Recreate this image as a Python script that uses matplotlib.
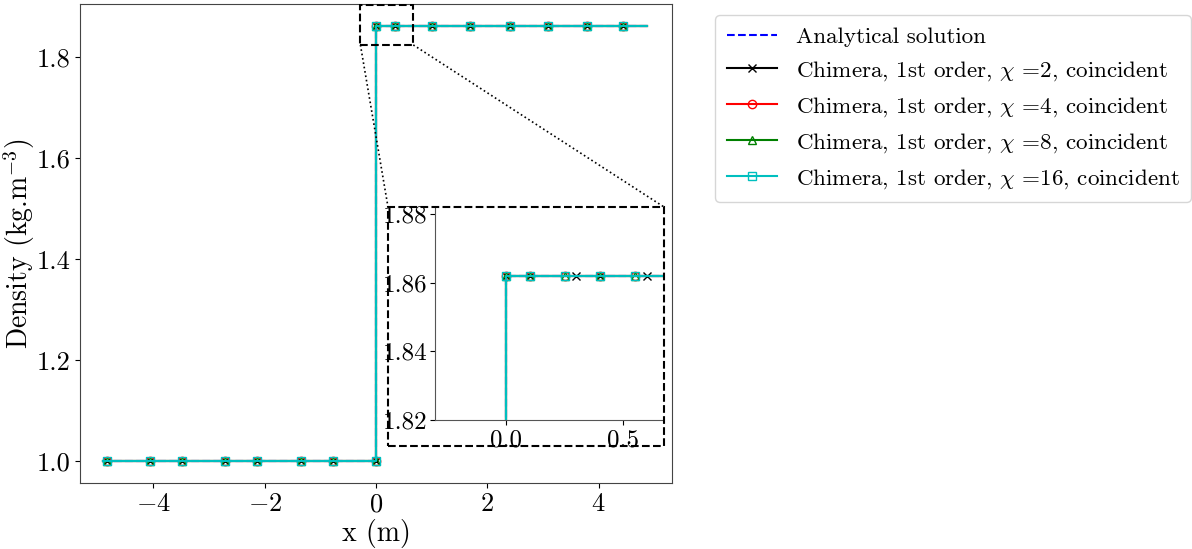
import matplotlib
matplotlib.use("Agg")
import matplotlib.pyplot as plt
from matplotlib.patches import Rectangle
from matplotlib.lines import Line2D

plt.rcParams['font.family'] = 'serif'
plt.rcParams['font.serif'] = ['cmr10']
plt.rcParams['mathtext.fontset'] = 'cm'
plt.rcParams['axes.formatter.use_mathtext'] = True
plt.rcParams['axes.unicode_minus'] = True

# ---- data ----
rho_left = 1.0
rho_right = 1.862
x_start = -4.9
x_end = 4.87
x_jump = 0.0

# marker positions in main view
markers_left = [-4.84, -4.06, -3.49, -2.72, -2.13, -1.35, -0.77, 0.0]
markers_right = [0.0, 0.34, 1.0, 1.69, 2.41, 3.09, 3.79, 4.44]

# marker positions in zoomed view
inset_markers = {
    2: [0.0, 0.1, 0.3, 0.4, 0.6],
    4: [0.0, 0.1, 0.25, 0.4, 0.55],
    8: [0.0, 0.1, 0.25, 0.4, 0.55],
    16: [0.0, 0.1, 0.25, 0.4, 0.55],
}

chis = [2, 4, 8, 16]
colors = {2: 'k', 4: 'r', 8: 'g', 16: 'c'}
mks = {2: 'x', 4: 'o', 8: '^', 16: 's'}

fs = 19
fs_lab = 20
fs_in = 18
fs_leg = 16.6

fig = plt.figure(figsize=(11.92, 5.49), dpi=100)
ax = fig.add_axes([80/1192, 1-483/549, 592/1192, 479/549])


def build(mleft, mright):
    xs = [x_start] + list(mleft) + [x_jump, x_jump] + list(mright) + [x_end]
    ys = [rho_left] * (len(mleft) + 2) + [rho_right] * (len(mright) + 2)
    idx = list(range(1, 1 + len(mleft))) + list(range(3 + len(mleft), 3 + len(mleft) + len(mright)))
    return xs, ys, idx


# analytical
ax.plot([x_start, x_jump, x_jump, x_end], [rho_left, rho_left, rho_right, rho_right],
        '--', color='b', lw=1.5, label='Analytical solution')
for chi in chis:
    xs, ys, idx = build(markers_left, markers_right)
    ax.plot(xs, ys, '-', color=colors[chi], lw=1.5, marker=mks[chi], markevery=idx,
            mfc='none', ms=6,
            label=r'Chimera, 1st order, $\chi$ =%d, coincident' % chi)

ax.set_xlim(-5.32, 5.32)
ax.set_ylim(0.957, 1.905)
ax.set_xticks([-4, -2, 0, 2, 4])
ax.set_yticks([1.0, 1.2, 1.4, 1.6, 1.8])
ax.set_yticklabels(['1.0', '1.2', '1.4', '1.6', '1.8'])
ax.tick_params(labelsize=fs)
ax.set_xlabel('x (m)', fontsize=fs_lab, labelpad=2)
ax.set_ylabel(r'Density (kg.m$^{-3}$)', fontsize=fs_lab)
ax.yaxis.set_label_coords(-0.073, 0.5)
for s in ax.spines.values():
    s.set_color('#444444')

# zoom box in main axes
bx0, bx1, by0, by1 = -0.28, 0.67, 1.824, 1.903
ax.add_patch(Rectangle((bx0, by0), bx1 - bx0, by1 - by0, fill=False, ls='--', lw=1.5,
                       ec='k', zorder=5))

# inset
axin = fig.add_axes([435/1192, 1-420/549, 228/1192, 213/549])
axin.plot([x_start, x_jump, x_jump, x_end], [rho_left, rho_left, rho_right, rho_right],
          '--', color='b', lw=1.5)
for chi in chis:
    xs, ys, idx = build([], inset_markers[chi])
    axin.plot(xs, ys, '-', color=colors[chi], lw=1.5, marker=mks[chi], markevery=idx,
              mfc='none', ms=6)
axin.set_xlim(-0.303, 0.669)
axin.set_ylim(1.82, 1.882)
axin.set_xticks([0.0, 0.5])
axin.set_xticklabels(['0.0', '0.5'])
axin.set_yticks([1.82, 1.84, 1.86, 1.88])
axin.set_yticklabels(['1.82', '1.84', '1.86', '1.88'])
axin.tick_params(axis='y', labelsize=fs_in, pad=2)
axin.tick_params(axis='x', labelsize=fs_in, pad=3)
axin.spines['top'].set_visible(False)
axin.spines['right'].set_visible(False)
for s in axin.spines.values():
    s.set_color('#555555')

# dashed frame around inset (figure coords)
fx0, fx1, fy0, fy1 = 388/1192, 664/1192, 1-446/549, 1-207/549
fig.patches.append(Rectangle((fx0, fy0), fx1 - fx0, fy1 - fy0, transform=fig.transFigure,
                             fill=False, ls='--', lw=1.5, ec='k', zorder=5))

# dotted connectors
to_fig = fig.transFigure.inverted()
p1 = to_fig.transform(ax.transData.transform((bx0, by0)))
p2 = to_fig.transform(ax.transData.transform((bx1, by0)))
fig.lines.append(Line2D([p1[0], fx0], [p1[1], fy1], transform=fig.transFigure,
                        ls=':', color='k', lw=1.2))
fig.lines.append(Line2D([p2[0], fx1], [p2[1], fy1], transform=fig.transFigure,
                        ls=':', color='k', lw=1.2))

handles, labels = ax.get_legend_handles_labels()
leg = fig.legend(handles, labels, loc='upper left', bbox_to_anchor=(715/1192, 1-15/549),
                 fontsize=fs_leg, borderaxespad=0, frameon=True, handlelength=2.2,
                 labelspacing=0.53, borderpad=0.5)
leg.get_frame().set_edgecolor('#cccccc')

fig.savefig('out.png', dpi=100)
